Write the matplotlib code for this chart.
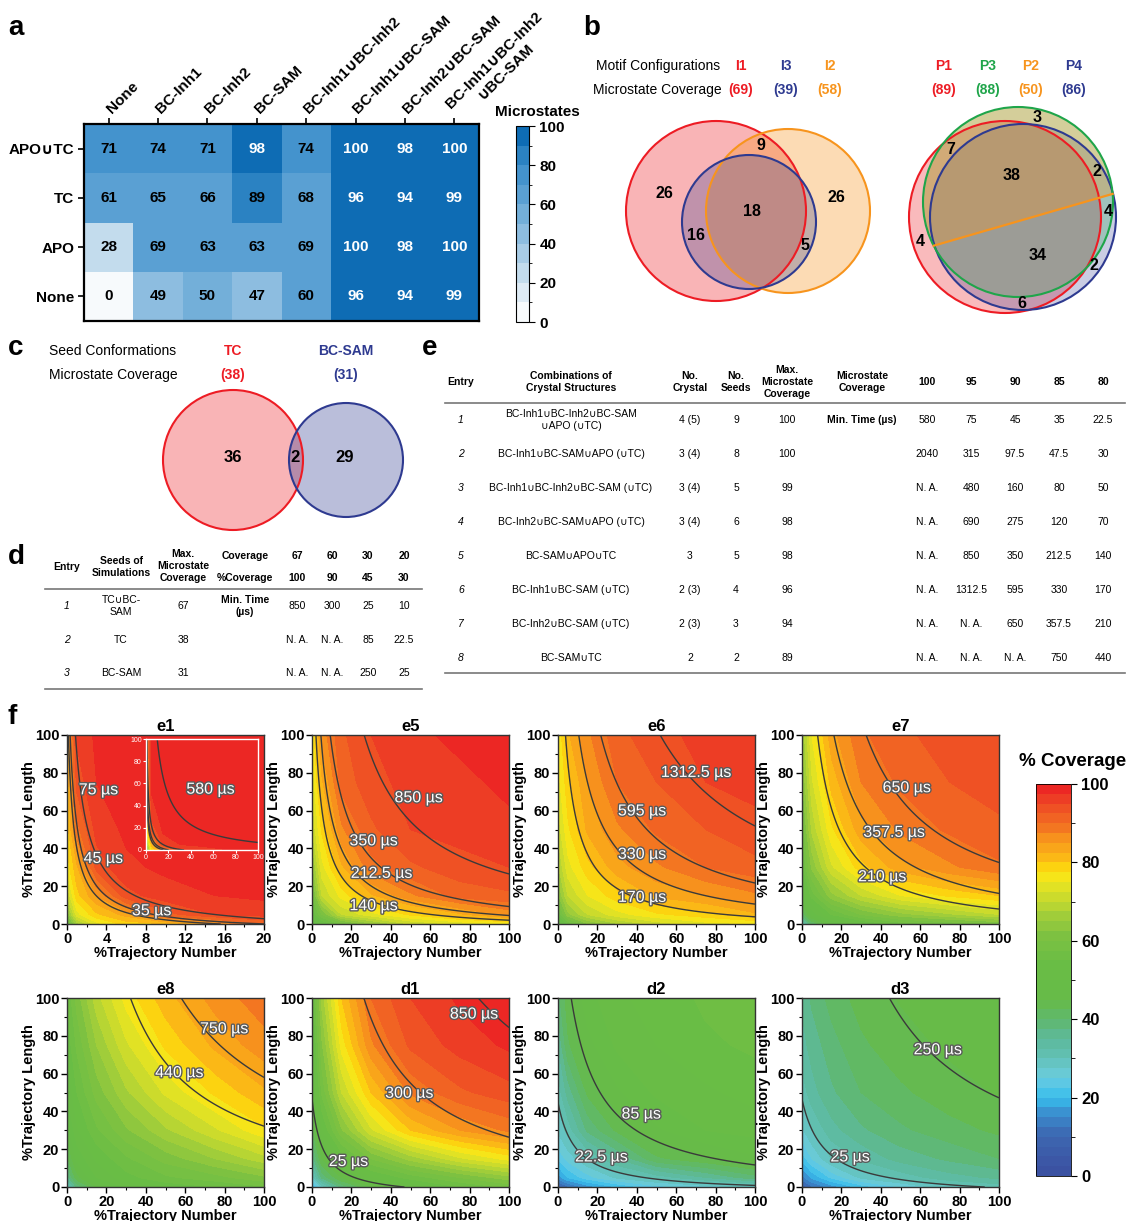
import numpy as np
import matplotlib
matplotlib.use('Agg')
import matplotlib.pyplot as plt
from matplotlib.colors import ListedColormap, BoundaryNorm, LinearSegmentedColormap
from matplotlib.patches import Circle, Polygon
from matplotlib.ticker import MultipleLocator
import matplotlib.patheffects as pe

plt.rcParams['font.family'] = ['Liberation Sans', 'DejaVu Sans']

W, H = 1131, 1221

# ---------------- data: panel a (microstates heatmap)
a_rows = ['APO∪TC', 'TC', 'APO', 'None']
a_cols = ['None', 'BC-Inh1', 'BC-Inh2', 'BC-SAM', 'BC-Inh1∪BC-Inh2', 'BC-Inh1∪BC-SAM',
          'BC-Inh2∪BC-SAM', 'BC-Inh1∪BC-Inh2\n∪BC-SAM']
a_vals = [[71, 74, 71, 98, 74, 100, 98, 100],
          [61, 65, 66, 89, 68, 96, 94, 99],
          [28, 69, 63, 63, 69, 100, 98, 100],
          [0, 49, 50, 47, 60, 96, 94, 99]]

# ---------------- data: panel b / c (venn counts)
b_left_names = ['I1', 'I3', 'I2']
b_left_cov = [69, 39, 58]
b_left_counts = [26, 9, 18, 16, 5, 26]
b_right_names = ['P1', 'P3', 'P2', 'P4']
b_right_cov = [89, 88, 50, 86]
b_right_counts = [3, 7, 38, 2, 4, 4, 34, 2, 6]
c_names = ['TC', 'BC-SAM']
c_cov = [38, 31]
c_counts = [36, 2, 29]

# ---------------- data: table d
d_entry = ['1', '2', '3']
d_seeds = ['TC∪BC-\nSAM', 'TC', 'BC-SAM']
d_maxcov = ['67', '38', '31']
d_cov_hdr = ['67', '60', '30', '20']
d_pct_hdr = ['100', '90', '45', '30']
d_times = [['850', '300', '25', '10'],
           ['N. A.', 'N. A.', '85', '22.5'],
           ['N. A.', 'N. A.', '250', '25']]

# ---------------- data: table e
e_combo = ['BC-Inh1∪BC-Inh2∪BC-SAM\n∪APO (∪TC)', 'BC-Inh1∪BC-SAM∪APO (∪TC)',
           'BC-Inh1∪BC-Inh2∪BC-SAM (∪TC)', 'BC-Inh2∪BC-SAM∪APO (∪TC)',
           'BC-SAM∪APO∪TC', 'BC-Inh1∪BC-SAM (∪TC)', 'BC-Inh2∪BC-SAM (∪TC)', 'BC-SAM∪TC']
e_ncrystal = ['4 (5)', '3 (4)', '3 (4)', '3 (4)', '3', '2 (3)', '2 (3)', '2']
e_nseeds = ['9', '8', '5', '6', '5', '4', '3', '2']
e_maxcov = ['100', '100', '99', '98', '98', '96', '94', '89']
e_pct = ['100', '95', '90', '85', '80']
e_times = [['580', '75', '45', '35', '22.5'],
           ['2040', '315', '97.5', '47.5', '30'],
           ['N. A.', '480', '160', '80', '50'],
           ['N. A.', '690', '275', '120', '70'],
           ['N. A.', '850', '350', '212.5', '140'],
           ['N. A.', '1312.5', '595', '330', '170'],
           ['N. A.', 'N. A.', '650', '357.5', '210'],
           ['N. A.', 'N. A.', 'N. A.', '750', '440']]

# ---------------- data: panel f (coverage grids, rows = %length, cols = %number)
grid_x = [0, 5, 15, 30, 50, 75, 100]
grid_x_e1 = [0, 1, 3, 6, 10, 15, 20]
grid_y = [0, 5, 15, 30, 50, 75, 100]

cov_e1 = [[55, 66, 74, 78.5, 80, 85, 90],
          [62, 74, 79.5, 83.5, 91.5, 95, 96],
          [70, 79, 85, 94, 96.5, 97.5, 98],
          [76, 82, 93.5, 97, 98, 98.5, 99],
          [78.5, 89, 96, 98, 98.5, 99.5, 100],
          [80, 93.5, 97.5, 98.5, 99.5, 100, 100],
          [82, 95.5, 98, 99, 100, 100, 100]]
cov_e1_inset = [[55, 77, 85, 94, 96.5, 97.5, 98],
                [62, 81.5, 95, 97.5, 98, 99, 99.5],
                [70, 92, 97.5, 98.5, 99.5, 100, 100],
                [76, 96, 98.5, 99.5, 100, 100, 100],
                [78.5, 97.5, 99.5, 100, 100, 100, 100],
                [80, 98, 100, 100, 100, 100, 100],
                [82, 98.5, 100, 100, 100, 100, 100]]
cov_e5 = [[45, 52, 58, 64, 70, 73, 75],
          [52, 60, 70, 74, 78, 82, 86],
          [58, 70, 76, 82, 87, 91, 92],
          [64, 74, 82, 89, 92, 94, 95],
          [70, 78, 87, 92, 95, 96, 97],
          [73, 82, 91, 94, 96, 97, 98],
          [75, 86, 92, 95, 97, 98, 98]]
cov_e6 = [[48, 55, 62, 67, 71, 74, 75],
          [55, 64, 70, 74, 77, 79, 82],
          [62, 70, 75, 79, 83, 85, 87],
          [67, 74, 79, 84, 87, 90, 91.5],
          [71, 77, 83, 87, 90.5, 92.5, 94.5],
          [74, 79, 85, 90, 92.5, 95, 95.5],
          [75, 82, 87, 91.5, 94.5, 95.5, 96]]
cov_e7 = [[30, 40, 47, 52, 56, 58, 60],
          [40, 48, 55, 60, 64, 67, 70],
          [48, 56, 64, 70, 75, 78, 80],
          [54, 63, 72, 79, 84, 87, 89.5],
          [58, 68, 77, 84, 88, 90.5, 92],
          [62, 72, 81, 87.5, 90.5, 92.5, 93.5],
          [65, 75, 84, 89.5, 92, 93.5, 94]]
cov_e8 = [[28, 38, 45, 50, 53, 55, 57],
          [36, 44, 50, 54, 57, 59, 62],
          [42, 48, 53, 57, 61, 65, 69],
          [46, 52, 57, 62, 67, 72, 77],
          [50, 55, 61, 67, 73, 78, 82],
          [53, 58, 65, 72, 78, 83, 86.5],
          [55, 61, 69, 76, 81.5, 86, 89]]
cov_d1 = [[20, 28, 38, 45, 50, 55, 58],
          [28, 38, 45, 52, 56, 60, 64],
          [36, 45, 53, 60, 66, 72, 76],
          [42, 52, 62, 72, 80, 85, 88],
          [46, 58, 70, 80, 88, 92, 94],
          [50, 62, 76, 87, 93, 96, 98],
          [53, 66, 80, 90, 95, 98, 100]]
cov_d2 = [[8, 12, 16, 20, 24, 26, 28],
          [16, 20, 24, 28, 31, 35, 39],
          [23, 26, 30, 35, 42, 44.5, 47],
          [28, 31, 38, 43, 47, 50, 51],
          [31, 36, 43, 47, 50.5, 52, 53.5],
          [35, 42, 46.5, 50.5, 52.5, 54.5, 55.5],
          [39, 44, 49, 52, 53.5, 55.5, 57]]
cov_d3 = [[8, 12, 16, 21, 25, 29, 31],
          [14, 18, 23, 28, 31, 34, 35.5],
          [21, 25, 30, 33, 36, 38, 40],
          [27, 30, 34, 37, 39.5, 41.5, 43],
          [31, 34, 37, 40, 42, 44, 45.2],
          [34, 36, 39, 42, 44, 45.5, 46],
          [35.5, 38, 41, 43.5, 45.2, 46, 46.5]]

f_names = ['e1', 'e5', 'e6', 'e7', 'e8', 'd1', 'd2', 'd3']
f_cov = [cov_e1, cov_e5, cov_e6, cov_e7, cov_e8, cov_d1, cov_d2, cov_d3]
f_xgrid = [grid_x_e1] + [grid_x] * 7
# iso-time curves: total time at 100%/100% and offsets of the time grid
f_tmax = [5545, 2981, 2457, 1855, 1255, 998, 595, 500]
f_ox = [0.5, 2.83, 3.35, 3.84, 4.4, 5.32, 8.86, 11.3]
f_oy = [4.1, 2.83, 3.35, 3.84, 4.4, 5.32, 3.06, 5.65]
f_times = [[35, 45, 75], [140, 212.5, 350, 850], [170, 330, 595, 1312.5],
           [210, 357.5, 650], [440, 750], [25, 300, 850], [22.5, 85], [25, 250]]
inset_times = [35, 45, 75, 580]
inset_label = 580

# ---------------- layout
f_lab_xy = [[(8.6, 7), (3.7, 34.7), (3.2, 71)],
            [(31.3, 9.7), (35.3, 26.8), (31.3, 44), (54.2, 66.8)],
            [(42.7, 14.1), (42.7, 36.9), (42.7, 59.8), (70.1, 80.2)],
            [(40.7, 25), (46.8, 48.5), (53.2, 72.1)],
            [(57.1, 60.5), (79.8, 83.7)],
            [(18.5, 13.5), (49.4, 49.6), (82.3, 91.5)],
            [(22, 15.9), (42.3, 38.6)],
            [(24.4, 15.9), (68.9, 72.6)]]


def box(l, t, w, h):
    return [l / W, 1 - (t + h) / H, w / W, h / H]


fig = plt.figure(figsize=(W / 100, H / 100), dpi=100)
ax0 = fig.add_axes([0, 0, 1, 1])
ax0.set_xlim(0, W)
ax0.set_ylim(H, 0)
ax0.axis('off')

for lab, x, y in [('a', 8, 28), ('b', 583, 28), ('c', 8, 348), ('d', 8, 557), ('e', 422, 348), ('f', 8, 717)]:
    ax0.text(x, y, lab, fontsize=20, fontweight='bold', ha='left', va='center')

# ---------------- panel a
blues = ['#f7fafc', '#deebf5', '#c3dced', '#a8cce6', '#8dbde0', '#73afd9',
         '#5aa0d3', '#4493cd', '#2b82c2', '#0e6cb4']
cmap_a = ListedColormap(blues)
cmap_a.set_over(blues[-1])
norm_a = BoundaryNorm(np.arange(0, 101, 10), 10)
ax_a = fig.add_axes(box(84, 124, 395, 197))
mesh = ax_a.pcolormesh(np.array(a_vals), cmap=cmap_a, norm=norm_a)
ax_a.set_ylim(len(a_rows), 0)
ax_a.xaxis.tick_top()
ax_a.set_xticks(np.arange(len(a_cols)) + 0.5)
ax_a.set_xticklabels(a_cols, rotation=45, ha='left', va='center', rotation_mode='anchor',
                     fontsize=11, fontweight='bold')
for t in ax_a.get_xticklabels():
    t.set_multialignment('center')
ax_a.set_yticks(np.arange(len(a_rows)) + 0.5)
ax_a.set_yticklabels(a_rows, fontsize=11, fontweight='bold')
ax_a.tick_params(length=4, width=1.2, pad=3)
ax_a.tick_params(axis='x', pad=5)
for s in ax_a.spines.values():
    s.set_linewidth(1.6)
for i, row in enumerate(a_vals):
    for j, v in enumerate(row):
        ax_a.text(j + 0.5, i + 0.5, str(v), ha='center', va='center', fontsize=11,
                  fontweight='bold', color='white' if v >= 90 else 'black')
cax_a = fig.add_axes(box(516, 126, 13, 196))
cb_a = fig.colorbar(mesh, cax=cax_a, ticks=range(0, 101, 20))
cb_a.ax.tick_params(labelsize=11, length=4)
for t in cb_a.ax.get_yticklabels():
    t.set_fontweight('bold')
ax0.text(537, 112, 'Microstates', fontsize=11, fontweight='bold', ha='center', va='center')

# ---------------- panel b
red, blue, orange, green = '#ed1c24', '#2e3a90', '#f7941d', '#1fa54a'
ax0.text(596, 66, 'Motif Configurations', fontsize=10, va='center')
ax0.text(593, 90, 'Microstate Coverage', fontsize=10, va='center')
for name, cov, x, col in zip(b_left_names, b_left_cov, [741, 786, 830], [red, blue, orange]):
    ax0.text(x, 66, name, color=col, fontsize=10, fontweight='bold', ha='center', va='center')
    ax0.text(x, 90, '(%d)' % cov, color=col, fontsize=10, fontweight='bold', ha='center', va='center')
for name, cov, x, col in zip(b_right_names, b_right_cov, [944, 988, 1031, 1074], [red, green, orange, blue]):
    ax0.text(x, 66, name, color=col, fontsize=10, fontweight='bold', ha='center', va='center')
    ax0.text(x, 90, '(%d)' % cov, color=col, fontsize=10, fontweight='bold', ha='center', va='center')

left_circ = [((716, 211), 90, red, 0.33), ((788, 211), 82, orange, 0.33), ((749, 222), 67, blue, 0.28)]
for c, r, col, al in left_circ:
    ax0.add_patch(Circle(c, r, facecolor=col, alpha=al, edgecolor='none'))
for c, r, col, al in left_circ:
    ax0.add_patch(Circle(c, r, facecolor='none', edgecolor=col, lw=1.5))
for n, (x, y) in zip(b_left_counts, [(664, 194), (761, 146), (752, 212), (696, 235), (805, 246), (836, 197)]):
    ax0.text(x, y, str(n), fontsize=11.5, fontweight='bold', ha='center', va='center')

right_circ = [((1005, 217), 96, red, 0.3), ((1023, 217), 93, blue, 0.25), ((1018, 202), 95, green, 0.25)]
for c, r, col, al in right_circ:
    ax0.add_patch(Circle(c, r, facecolor=col, alpha=al, edgecolor='none'))
ang = np.radians(np.linspace(4.9, 207.4, 120))
seg = np.column_stack([1018 + 95 * np.cos(ang), 202 - 95 * np.sin(ang)])
ax0.add_patch(Polygon(seg, closed=True, facecolor=orange, alpha=0.3, edgecolor='none'))
for c, r, col, al in right_circ:
    ax0.add_patch(Circle(c, r, facecolor='none', edgecolor=col, lw=1.5))
ax0.plot([seg[-1, 0], seg[0, 0]], [seg[-1, 1], seg[0, 1]], color=orange, lw=1.6)
for n, (x, y) in zip(b_right_counts, [(1037, 117), (951, 149), (1012, 176), (1097, 172), (1108, 212),
                                      (920, 242), (1038, 255), (1094, 266), (1022, 303)]):
    ax0.text(x, y, str(n), fontsize=11.5, fontweight='bold', ha='center', va='center')

# ---------------- panel c
ax0.text(49, 351, 'Seed Conformations', fontsize=10, va='center')
ax0.text(49, 375, 'Microstate Coverage', fontsize=10, va='center')
for name, cov, x, col in zip(c_names, c_cov, [233, 346], [red, blue]):
    ax0.text(x, 351, name, color=col, fontsize=10, fontweight='bold', ha='center', va='center')
    ax0.text(x, 375, '(%d)' % cov, color=col, fontsize=10, fontweight='bold', ha='center', va='center')
c_circ = [((233, 460), 70, red, 0.33), ((346, 460), 57, blue, 0.33)]
for c, r, col, al in c_circ:
    ax0.add_patch(Circle(c, r, facecolor=col, alpha=al, edgecolor='none'))
for c, r, col, al in c_circ:
    ax0.add_patch(Circle(c, r, facecolor='none', edgecolor=col, lw=1.5))
for n, x in zip(c_counts, [233, 295, 345]):
    ax0.text(x, 458, str(n), fontsize=12, fontweight='bold', ha='center', va='center')

# ---------------- table d
fs_t = 7.5
ax0.plot([45, 422], [589, 589], color='#777777', lw=1.2)
ax0.plot([45, 422], [689, 689], color='#777777', lw=1.2)
ax0.text(67, 567, 'Entry', fontsize=fs_t, fontweight='bold', ha='center', va='center')
ax0.text(121, 567, 'Seeds of\nSimulations', fontsize=fs_t, fontweight='bold', ha='center', va='center', linespacing=1.3)
ax0.text(183, 566, 'Max.\nMicrostate\nCoverage', fontsize=fs_t, fontweight='bold', ha='center', va='center', linespacing=1.2)
ax0.text(245, 556, 'Coverage', fontsize=fs_t, fontweight='bold', ha='center', va='center')
ax0.text(245, 578, '%Coverage', fontsize=fs_t, fontweight='bold', ha='center', va='center')
d_xs = [297, 332, 368, 404]
for x, c1, c2 in zip(d_xs, d_cov_hdr, d_pct_hdr):
    ax0.text(x, 556, c1, fontsize=fs_t, fontweight='bold', ha='center', va='center')
    ax0.text(x, 578, c2, fontsize=fs_t, fontweight='bold', ha='center', va='center')
for i, y in enumerate([606, 640, 673]):
    ax0.text(67, y, d_entry[i], fontsize=fs_t, style='italic', ha='center', va='center')
    ax0.text(121, y, d_seeds[i], fontsize=fs_t, ha='center', va='center', linespacing=1.2)
    ax0.text(183, y, d_maxcov[i], fontsize=fs_t, ha='center', va='center')
    for x, v in zip(d_xs, d_times[i]):
        ax0.text(x, y, v, fontsize=fs_t, ha='center', va='center')
ax0.text(245, 606, 'Min. Time\n(µs)', fontsize=fs_t, fontweight='bold', ha='center', va='center', linespacing=1.2)

# ---------------- table e
ax0.plot([445, 1125], [403, 403], color='#777777', lw=1.2)
ax0.plot([445, 1125], [673, 673], color='#777777', lw=1.2)
hdr = [(461, 'Entry'), (571, 'Combinations of\nCrystal Structures'), (690, 'No.\nCrystal'),
       (736, 'No.\nSeeds'), (787, 'Max.\nMicrostate\nCoverage'), (862, 'Microstate\nCoverage')]
for x, t in hdr:
    ax0.text(x, 382, t, fontsize=fs_t, fontweight='bold', ha='center', va='center', linespacing=1.2)
e_xs = [927, 971, 1015, 1059, 1103]
for x, t in zip(e_xs, e_pct):
    ax0.text(x, 382, t, fontsize=fs_t, fontweight='bold', ha='center', va='center')
e_ys = [420, 454, 488, 522, 556, 590, 624, 658]
for i, y in enumerate(e_ys):
    ax0.text(461, y, str(i + 1), fontsize=fs_t, style='italic', ha='center', va='center')
    ax0.text(571, y, e_combo[i], fontsize=fs_t, ha='center', va='center', linespacing=1.2)
    ax0.text(690, y, e_ncrystal[i], fontsize=fs_t, ha='center', va='center')
    ax0.text(736, y, e_nseeds[i], fontsize=fs_t, ha='center', va='center')
    ax0.text(787, y, e_maxcov[i], fontsize=fs_t, ha='center', va='center')
    for x, v in zip(e_xs, e_times[i]):
        ax0.text(x, y, v, fontsize=fs_t, ha='center', va='center')
ax0.text(862, 420, 'Min. Time (µs)', fontsize=fs_t, fontweight='bold', ha='center', va='center')

# ---------------- panel f
anchor_v = [0, 10, 15, 20, 25, 30, 35, 40, 45, 55, 62, 67, 72, 76, 79, 82, 86, 90, 95, 100]
anchor_c = ['#3b4fa0', '#3d66b0', '#3a86c9', '#38bdec', '#6ccde0', '#62c1b6', '#5db99b', '#60b86c',
            '#66bb48', '#6abd45', '#80c241', '#a6cf39', '#d1dd2a', '#f5e81b', '#fcd20f', '#fbb417',
            '#f7941d', '#f26c22', '#ee4b25', '#ec1c24']
cont = LinearSegmentedColormap.from_list('cov', list(zip(np.array(anchor_v) / 100, anchor_c)))
lev = np.arange(0, 100.1, 2.5)
cmap_f = ListedColormap(cont((lev[:-1] + 1.25) / 100))
cmap_f.set_over(anchor_c[-1])
norm_f = BoundaryNorm(lev, len(lev) - 1)
stroke = [pe.withStroke(linewidth=2, foreground='#5a5a5a')]


def time_field(xmax, tmax, ox, oy):
    xf = np.linspace(0, xmax, 241)
    yf = np.linspace(0, 100, 241)
    XF, YF = np.meshgrid(xf, yf)
    return XF, YF, tmax * (XF + ox) * (YF + oy) / ((100 + ox) * (100 + oy))


lefts = [67, 312, 558, 802]
tops = [735, 998]
cs = None
for k, name in enumerate(f_names):
    ax = fig.add_axes(box(lefts[k % 4], tops[k // 4], 197, 189))
    gx = f_xgrid[k]
    cs = ax.contourf(gx, grid_y, np.array(f_cov[k]), levels=lev, cmap=cmap_f, norm=norm_f)
    XF, YF, TF = time_field(gx[-1], f_tmax[k], f_ox[k], f_oy[k])
    ax.contour(XF, YF, TF, levels=f_times[k], colors='#3a3a3a', linewidths=1.0)
    for tv, (lx, ly) in zip(f_times[k], f_lab_xy[k]):
        ax.text(lx, ly, '%g µs' % tv, color='white', fontsize=11.5, ha='center', va='center',
                path_effects=stroke)
    ax.set_xlim(0, gx[-1])
    ax.set_ylim(0, 100)
    if gx[-1] == 20:
        ax.xaxis.set_major_locator(MultipleLocator(4))
        ax.xaxis.set_minor_locator(MultipleLocator(2))
    else:
        ax.xaxis.set_major_locator(MultipleLocator(20))
        ax.xaxis.set_minor_locator(MultipleLocator(10))
    ax.yaxis.set_major_locator(MultipleLocator(20))
    ax.yaxis.set_minor_locator(MultipleLocator(10))
    ax.tick_params(which='major', length=4, width=1, labelsize=10.5, pad=1.5)
    ax.tick_params(which='minor', length=2.5, width=0.8)
    for t in ax.get_xticklabels() + ax.get_yticklabels():
        t.set_fontweight('bold')
    for s in ax.spines.values():
        s.set_linewidth(1.0)
        s.set_color('#333333')
    ax.set_title(name, fontsize=12, fontweight='bold', pad=3)
    ax.set_xlabel('%Trajectory Number', fontsize=10.5, fontweight='bold', labelpad=0)
    ax.set_ylabel('%Trajectory Length', fontsize=10.5, fontweight='bold', labelpad=-1)

    if name == 'e1':
        axi = fig.add_axes(box(146, 739, 112, 111))
        axi.contourf(grid_x, grid_y, np.array(cov_e1_inset), levels=lev, cmap=cmap_f, norm=norm_f)
        XI, YI, TI = time_field(100, f_tmax[0], f_ox[0], f_oy[0])
        axi.contour(XI, YI, TI, levels=inset_times, colors='#3a3a3a', linewidths=1.0)
        axi.text(57.7, 54.8, '%g µs' % inset_label, color='white', fontsize=11.5,
                 ha='center', va='center', path_effects=stroke)
        axi.set_xlim(0, 100)
        axi.set_ylim(0, 100)
        axi.set_xticks(range(0, 101, 20))
        axi.set_yticks(range(0, 101, 20))
        axi.tick_params(colors='white', labelsize=5, length=2, pad=1)
        for s in axi.spines.values():
            s.set_color('white')
            s.set_linewidth(1.0)

cax_f = fig.add_axes(box(1036, 784, 35, 392))
cb_f = fig.colorbar(cs, cax=cax_f, ticks=range(0, 101, 20))
cb_f.ax.yaxis.set_minor_locator(MultipleLocator(10))
cb_f.ax.tick_params(which='major', labelsize=12, length=4)
cb_f.ax.tick_params(which='minor', length=3)
cb_f.outline.set_linewidth(0.6)
for t in cb_f.ax.get_yticklabels():
    t.set_fontweight('bold')
ax0.text(1073, 761, '% Coverage', fontsize=13.5, fontweight='bold', ha='center', va='center')

fig.savefig('out.png', dpi=100)
